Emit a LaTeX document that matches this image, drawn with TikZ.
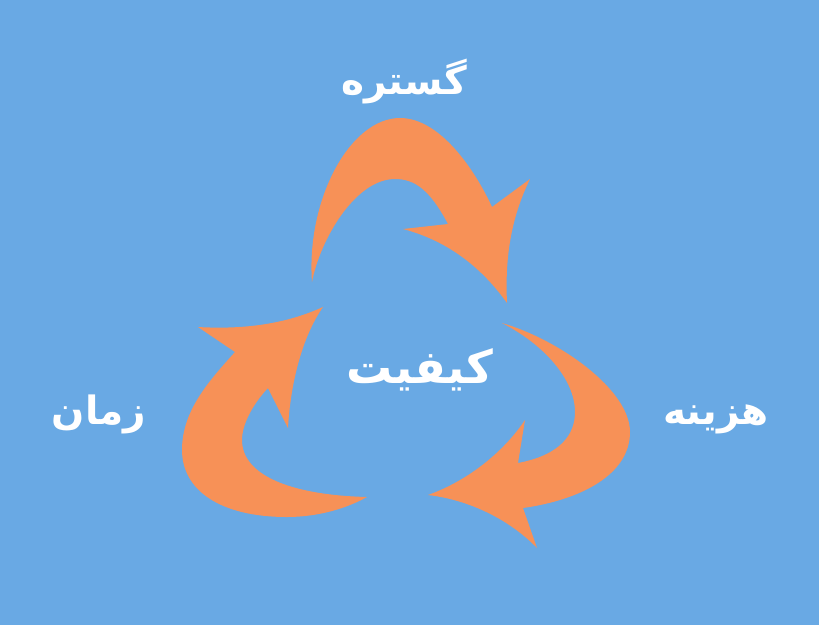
\documentclass[tikz,border=0pt]{standalone}
\usepackage{fontspec}
\usetikzlibrary{positioning}
\TeXXeTstate=1
\newfontfamily\arabicfont[Script=Arabic]{DejaVu Sans}
\definecolor{skyblue}{HTML}{69A9E4}
\definecolor{peach}{HTML}{F79157}

\begin{document}
\begin{tikzpicture}[x=1pt,y=-1pt,semithick]
  \tikzstyle{word}=[text=white,inner sep=0pt,
                    font=\arabicfont\bfseries\fontsize{39}{42}\selectfont]
  \tikzstyle{bend arrow}=[fill=peach,draw=none]

  \fill[skyblue] (0,0) rectangle (819,625);
  \useasboundingbox (0,0) rectangle (819,625);

  \node[word,font=\arabicfont\bfseries\fontsize{46}{50}\selectfont]
        (quality) at (420,370) {\beginR کیفیت\endR};
  \node[word] (scope)   at (404,82)  {\beginR گستره\endR};
  \node[word] (cost)    at (716,419) {\beginR هزینه\endR};
  \node[word] (time)    at (99,414)  {\beginR زمان\endR};

  % scope -> cost
  \path[bend arrow] (312,282) .. controls (306,200) and (350,118) .. (400,118)
        .. controls (440,118) and (475,170) .. (492,207)
        -- (530,179) .. controls (510,220) and (505,260) .. (507,303)
        .. controls (480,265) and (445,240) .. (403,229)
        -- (448,224) .. controls (430,190) and (415,179) .. (395,179)
        .. controls (355,179) and (320,240) .. cycle;
  % cost -> time
  \path[bend arrow] (502,323) .. controls (560,340) and (630,390) .. (630,432)
        .. controls (630,475) and (580,500) .. (523,508)
        -- (537,548) .. controls (510,520) and (470,500) .. (428,495)
        .. controls (470,480) and (505,450) .. (525,420)
        -- (518,463) .. controls (560,455) and (575,435) .. (575,412)
        .. controls (575,380) and (545,345) .. cycle;
  % time -> scope
  \path[bend arrow] (367,497) .. controls (340,512) and (310,517) .. (287,517)
        .. controls (220,517) and (182,490) .. (182,450)
        .. controls (182,410) and (210,380) .. (235,352)
        -- (198,327) .. controls (250,330) and (290,322) .. (323,307)
        .. controls (300,340) and (290,390) .. (288,428)
        -- (268,388) .. controls (252,405) and (242,425) .. (242,440)
        .. controls (242,475) and (290,495) .. cycle;
\end{tikzpicture}
\end{document}
